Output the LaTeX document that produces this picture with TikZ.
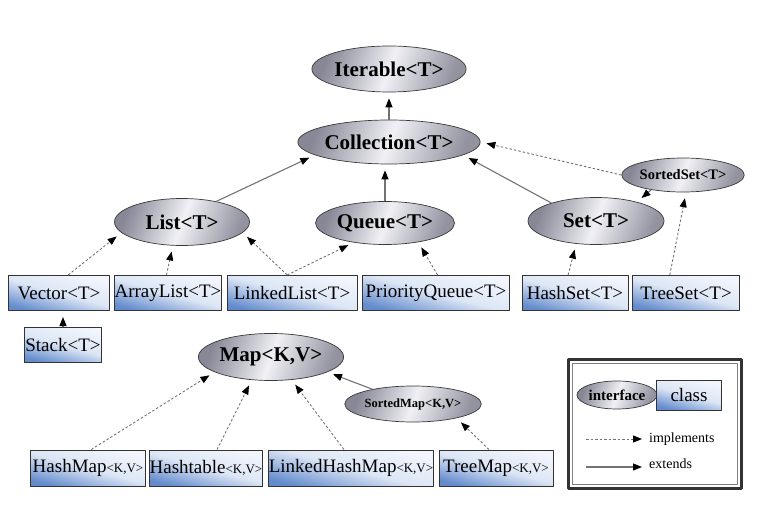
\documentclass[tikz,border=0pt]{standalone}
\usepackage{fontspec}
\setmainfont{Liberation Serif}
\usetikzlibrary{shapes.geometric,arrows.meta}

\definecolor{boxdark}{RGB}{100,140,205}
\definecolor{boxlight}{RGB}{242,246,252}
\definecolor{metaldark}{RGB}{135,135,150}
\definecolor{metallight}{RGB}{240,240,245}
\definecolor{linegray}{RGB}{115,115,115}

\newcommand{\kvsmall}{{\fontsize{13}{15}\selectfont<K,V>}}

\begin{document}
\begin{tikzpicture}[x=1pt, y=-1pt, line join=round,
    iface/.style={ellipse, draw=gray!45!black, line width=0.7pt, inner sep=0pt,
        left color=metaldark, right color=metaldark!90, middle color=metallight, shading angle=70,
        font=\fontsize{21}{24}\selectfont\bfseries},
    cls/.style={rectangle, draw=gray!40!black, line width=1pt, inner sep=0pt,
        minimum height=35pt, bottom color=boxdark, top color=boxlight, middle color=boxlight!85!boxdark,
        shading angle=-15, font=\fontsize{19}{22}\selectfont},
    ext/.style={draw=linegray, line width=1.1pt,
        -{Triangle[length=9pt,width=7pt,color=black]}, shorten >=6pt},
    impl/.style={ext, line width=0.9pt, dash pattern=on 2.5pt off 2pt},
    legendtext/.style={right, inner sep=1pt, font=\fontsize{14}{16}\selectfont}]
    \useasboundingbox (0,0) rectangle (757,521);

    % Interfaces
    \node[iface, minimum width=135pt, minimum height=46pt] (iter) at (389,69) {Iterable<T>};
    \node[iface, minimum width=135pt, minimum height=44pt] (coll) at (389,142) {Collection<T>};
    \node[iface, minimum width=135pt, minimum height=47pt] (list) at (182,222) {List<T>};
    \node[iface, minimum width=139pt, minimum height=43pt] (queue) at (385,223) {Queue<T>};
    \node[iface, minimum width=136pt, minimum height=47pt] (set) at (596,221) {Set<T>};
    \node[iface, minimum width=101pt, minimum height=34pt,
        font=\fontsize{14.5}{16}\selectfont\bfseries] (sset) at (683,175) {SortedSet<T>};
    \node[iface, minimum width=136pt, minimum height=47pt] (map) at (271,357) {Map<K,V>};
    \node[iface, minimum width=101pt, minimum height=36pt,
        font=\fontsize{12.5}{14}\selectfont\bfseries] (smap) at (413,404) {SortedMap<K,V>};

    % Classes
    \node[cls, minimum width=101pt] (vec) at (59,293) {Vector<T>};
    \node[cls, minimum width=106pt] (alist) at (168,293) {ArrayList<T>};
    \node[cls, minimum width=130pt] (llist) at (292,293) {LinkedList<T>};
    \node[cls, minimum width=147pt] (pq) at (436,293) {PriorityQueue<T>};
    \node[cls, minimum width=106pt] (hset) at (575,293) {HashSet<T>};
    \node[cls, minimum width=107pt] (tset) at (686,293) {TreeSet<T>};
    \node[cls, minimum width=77pt] (stack) at (63,345) {Stack<T>};
    \node[cls, minimum width=115pt, minimum height=36pt] (hmap) at (88,468) {HashMap\kvsmall};
    \node[cls, minimum width=113pt, minimum height=36pt] (htab) at (206,468) {Hashtable\kvsmall};
    \node[cls, minimum width=165pt, minimum height=36pt] (lhmap) at (351,468) {LinkedHashMap\kvsmall};
    \node[cls, minimum width=114pt, minimum height=36pt] (tmap) at (496,468) {TreeMap\kvsmall};

    % extends
    \draw[ext] (coll) -- (iter);
    \draw[ext] (list.31) -- (coll.190);
    \draw[ext] (queue.north) -- (queue.north |- coll.south);
    \draw[ext] (set.158) -- (coll.-10);
    \draw[ext] (sset.205) -- (set.25);
    \draw[ext] (stack.north) -- (stack.north |- vec.south);
    \draw[ext] (smap.160) -- (map.-15);

    % implements
    \draw[impl] (sset.west) -- (coll.east);
    \draw[impl] (vec.63) -- (list.190);
    \draw[impl] (alist.95) -- (list.249);
    \draw[impl] (llist.105) -- (list.-10);
    \draw[impl] (llist.105) -- (queue.212);
    \draw[impl] (pq.85) -- (queue.-30);
    \draw[impl] (hset.111) -- (set.229);
    \draw[impl] (tset.132) -- (sset.-80);
    \draw[impl] (hmap.80) -- (map.195);
    \draw[impl] (htab.59) -- (map.230);
    \draw[impl] (lhmap.111) -- (map.-48);
    \draw[impl] (tmap.111) -- (smap.-18);

    % Legend
    \draw[black!80, line width=3pt] (568,359) rectangle (741,488);
    \draw[gray, line width=0.8pt] (572,363) rectangle (737,484);
    \node[iface, minimum width=73pt, minimum height=28pt,
        font=\fontsize{15}{17}\selectfont\bfseries] (lgiface) at (617,395) {interface};
    \node[cls, minimum width=65pt, minimum height=30pt] (lgcls) at (689,395) {class};
    \coordinate (lgia) at (586,439);
    \coordinate (lgib) at (648,439);
    \coordinate (lgea) at (586,467);
    \coordinate (lgeb) at (648,467);
    \draw[impl] (lgia) -- (lgib);
    \draw[ext] (lgea) -- (lgeb);
    \node[legendtext] (lgimpl) at (648,439) {implements};
    \node[legendtext] (lgext) at (648,464) {extends};
\end{tikzpicture}
\end{document}
